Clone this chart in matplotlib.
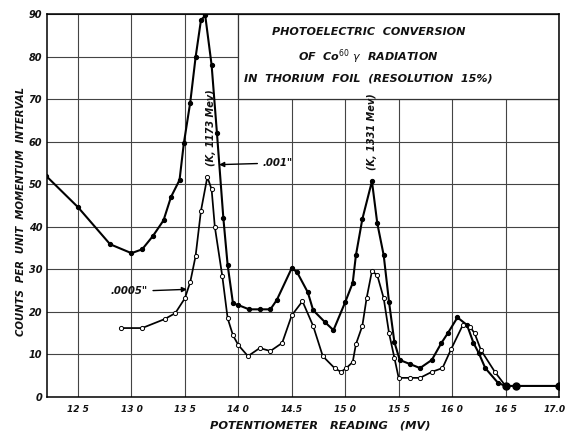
import matplotlib
matplotlib.use("Agg")
import matplotlib.pyplot as plt
import matplotlib.transforms as mtransforms
from matplotlib.patches import Rectangle

# .001" foil (filled dots)
x_001 = [12.2, 12.5, 12.8, 13.0, 13.1, 13.2, 13.3, 13.37, 13.45, 13.49, 13.55, 13.6, 13.65, 13.69,
         13.75, 13.8, 13.86, 13.9, 13.95, 14.0, 14.1, 14.2, 14.3, 14.36, 14.5, 14.55, 14.65, 14.7,
         14.81, 14.89, 15.0, 15.07, 15.1, 15.16, 15.25, 15.3, 15.36, 15.41, 15.46, 15.51, 15.61,
         15.7, 15.81, 15.9, 15.96, 16.05, 16.14, 16.2, 16.25, 16.31, 16.43, 16.5, 16.6, 17.0]
y_001 = [52, 44.6, 35.9, 33.8, 34.7, 37.8, 41.5, 47, 51, 59.6, 69.2, 79.8, 88.5, 89.7,
         78, 62, 42, 31, 22, 21.6, 20.6, 20.6, 20.6, 22.8, 30.3, 29.3, 24.6, 20.4,
         17.6, 15.7, 22.3, 26.8, 33.3, 41.8, 50.7, 40.8, 33.3, 22.3, 12.9, 8.7, 7.7,
         6.8, 8.7, 12.7, 15, 18.7, 16.9, 12.7, 10.3, 6.8, 3.3, 2.6, 2.6, 2.6]

# .0005" foil (open circles)
x_0005 = [12.9, 13.1, 13.31, 13.41, 13.5, 13.55, 13.6, 13.65, 13.71, 13.75, 13.78, 13.85, 13.9,
          13.95, 14.0, 14.09, 14.2, 14.3, 14.41, 14.5, 14.6, 14.7, 14.79, 14.9, 14.96, 15.01,
          15.07, 15.1, 15.16, 15.2, 15.25, 15.3, 15.36, 15.41, 15.46, 15.5, 15.61, 15.7, 15.81,
          15.91, 15.99, 16.1, 16.17, 16.21, 16.27, 16.4, 16.5]
y_0005 = [16.2, 16.2, 18.3, 19.7, 23.2, 27, 33.1, 43.7, 51.7, 48.8, 40, 28.4, 18.5,
          14.5, 12.2, 9.6, 11.5, 10.8, 12.7, 19.2, 22.5, 16.7, 9.6, 6.8, 5.9, 6.8,
          8.2, 12.4, 16.7, 23.2, 29.6, 28.6, 23.2, 15, 9.2, 4.5, 4.5, 4.5, 5.9,
          6.8, 11.2, 16.9, 16.4, 15, 11, 5.9, 2.6]

x_ticks = [12.5, 13.0, 13.5, 14.0, 14.5, 15.0, 15.5, 16.0, 16.5, 17.0]
x_ticklabels = ["12 5", "13 0", "13 5", "14 0", "14.5", "15 0", "15 5", "16 0", "16 5", "17.0"]
y_ticks = [0, 10, 20, 30, 40, 50, 60, 70, 80, 90]

title_lines = ["PHOTOELECTRIC  CONVERSION",
               "OF  Co$^{60}$ $\\gamma$  RADIATION",
               "IN  THORIUM  FOIL  (RESOLUTION  15%)"]

W, H = 568, 433
fig = plt.figure(figsize=(W / 100, H / 100), dpi=100)
ax = fig.add_axes([47 / W, 1 - 397 / H, (559 - 47) / W, (397 - 14) / H])
ax.set_xlim(12.21, 17.0)
ax.set_ylim(0, 90)

tfont = dict(fontstyle="italic", fontweight="bold", color="#111111")

ax.set_xticks(x_ticks)
ax.set_xticklabels(x_ticklabels, fontsize=6.5, **tfont)
ax.set_yticks(y_ticks)
ax.set_yticklabels([str(v) for v in y_ticks], fontsize=7, **tfont)
ax.tick_params(axis="x", length=0, pad=5.5)
ax.tick_params(axis="y", length=0, pad=3.5)

# last x label sits at the right edge of the page
last = ax.get_xticklabels()[-1]
last.set_ha("right")
last.set_transform(last.get_transform() + mtransforms.ScaledTranslation(0.07, 0, fig.dpi_scale_trans))

ax.set_axisbelow(True)
ax.grid(True, color="#444444", lw=0.8)
for s in ax.spines.values():
    s.set_linewidth(1.1)

# title box covers the grid in the upper right
ax.add_patch(Rectangle((14.0, 70), 3.0, 20, fc="white", ec="#333333", lw=0.9, zorder=1))
for ty, line in zip([85.7, 80.0, 74.9], title_lines):
    ax.text(15.22, ty, line, ha="center", va="center", fontsize=8.0, zorder=3, **tfont)

ax.plot(x_001, y_001, color="black", lw=1.5, marker="o", ms=2.8, mfc="black", mec="black", zorder=4)
ax.plot(x_0005, y_0005, color="black", lw=1.25, marker="o", ms=3.0, mfc="white", mec="black",
        mew=0.7, zorder=4)
ax.plot(x_001[-3:], y_001[-3:], ls="none", marker="o", ms=5, color="black", zorder=5)

ax.text(13.74, 63.4, "(K, 1173 Mev)", rotation=90, ha="center", va="center", fontsize=7.0,
        zorder=3, **tfont)
ax.text(15.25, 62.4, "(K, 1331 Mev)", rotation=90, ha="center", va="center", fontsize=7.0,
        zorder=3, **tfont)

ax.annotate('.001"', xy=(13.82, 54.6), xytext=(14.23, 55), ha="left", va="center",
            fontsize=7.3, arrowprops=dict(arrowstyle="-|>", color="black", lw=1,
                                          shrinkA=2, shrinkB=0), zorder=6, **tfont)
ax.annotate('.0005"', xy=(13.52, 25.3), xytext=(13.15, 24.8), ha="right", va="center",
            fontsize=7.3, arrowprops=dict(arrowstyle="-|>", color="black", lw=1,
                                          shrinkA=2, shrinkB=0), zorder=6, **tfont)

fig.text(21 / W, 1 - 211 / H, "COUNTS  PER  UNIT  MOMENTUM  INTERVAL", rotation=90,
         ha="center", va="center", fontsize=7.3, **tfont)
fig.text(320 / W, 1 - 425 / H, "POTENTIOMETER   READING   (MV)", ha="center", va="center",
         fontsize=8.2, **tfont)

fig.savefig("out.png", dpi=100)
